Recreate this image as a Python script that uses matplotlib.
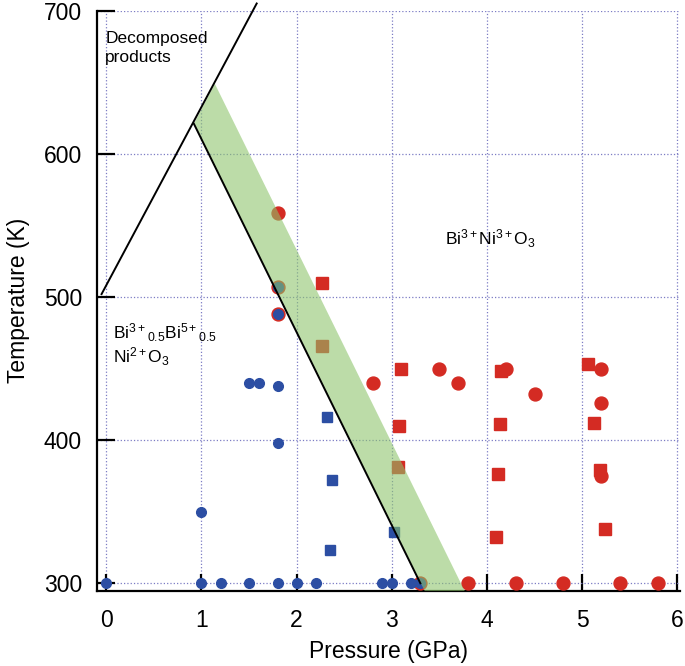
import matplotlib
matplotlib.use("Agg")
import matplotlib.pyplot as plt

plt.rcParams['font.family'] = ['Liberation Sans', 'DejaVu Sans']
plt.rcParams['mathtext.fontset'] = 'custom'
plt.rcParams['mathtext.rm'] = 'Liberation Sans'
plt.rcParams['mathtext.it'] = 'Liberation Sans:italic'

# measured points (pressure GPa, temperature K)
red_circ_p = [1.8, 1.8, 1.8, 2.8, 3.3, 3.5, 3.7, 3.8, 4.2, 4.3, 4.5, 4.8, 5.2, 5.2, 5.2, 5.4, 5.8]
red_circ_T = [559, 507, 488, 440, 300, 450, 440, 300, 450, 300, 432, 300, 450, 426, 375, 300, 300]
red_sq_p = [2.27, 2.27, 3.10, 3.08, 3.06, 4.15, 4.14, 4.12, 4.09, 5.06, 5.12, 5.19, 5.24]
red_sq_T = [510, 466, 450, 410, 381, 448, 411, 376, 332, 453, 412, 379, 338]
blue_circ_p = [0, 1.0, 1.2, 1.5, 1.8, 2.0, 2.2, 2.9, 3.0, 3.2, 3.3,
               1.5, 1.6, 1.8, 1.8, 1.0, 1.8, 1.8]
blue_circ_T = [300, 300, 300, 300, 300, 300, 300, 300, 300, 300, 300,
               440, 440, 438, 398, 350, 488, 507]
blue_sq_p = [2.32, 2.37, 2.35, 3.02]
blue_sq_T = [416, 372, 323, 336]

# phase boundaries
decomp_p = [-0.05, 1.58]
decomp_T = [502, 705]
bound_p = [0.92, 3.3]
bound_T = [621, 300]
band_p = [0.92, 1.14, 3.80, 3.38]
band_T = [621, 649, 290, 290]

red = '#d42b23'
blue = '#2c4ea3'

fig = plt.figure(figsize=(6.85, 6.66), dpi=100)
ax = fig.add_axes([0.142, 0.113, 0.851, 0.871])

ax.set_xlim(-0.095, 6.03)
ax.set_ylim(294.8, 700)

ax.plot(red_sq_p, red_sq_T, 's', color=red, ms=9, mec=red, zorder=3)
ax.plot(red_circ_p, red_circ_T, 'o', color=red, ms=9.3, mec=red, zorder=3)
ax.plot(blue_sq_p, blue_sq_T, 's', color=blue, ms=6.5, mec=blue, zorder=4)
ax.plot(blue_circ_p, blue_circ_T, 'o', color=blue, ms=7, mec=blue, zorder=4)

ax.fill(band_p, band_T, color='#8cc46a', alpha=0.58, lw=0, zorder=5)
ax.plot(decomp_p, decomp_T, color='black', lw=1.4, zorder=6, clip_on=False)
ax.plot(bound_p, bound_T, color='black', lw=1.4, zorder=6)

ax.set_xticks([0, 1, 2, 3, 4, 5, 6])
ax.set_yticks([300, 400, 500, 600, 700])
ax.grid(True, color='#7c7cc4', ls=':', lw=0.9, zorder=1)
ax.set_axisbelow(True)

for s in ['top', 'right']:
    ax.spines[s].set_visible(False)
for s in ['left', 'bottom']:
    ax.spines[s].set_linewidth(1.6)

ax.tick_params(axis='both', direction='in', width=1.6, labelsize=16.5)
ax.tick_params(axis='x', length=12, pad=13)
ax.tick_params(axis='y', length=13, pad=11)

ax.set_xlabel('Pressure (GPa)', fontsize=16.5, labelpad=6)
ax.set_ylabel('Temperature (K)', fontsize=16.5, labelpad=10)

ax.text(-0.01, 686, 'Decomposed\nproducts', fontsize=12.5, va='top', ha='left',
        linespacing=1.35, zorder=7)
ax.text(4.04, 541, r'Bi$^{3+}$Ni$^{3+}$O$_{3}$', fontsize=12.5, ha='center',
        va='center', zorder=7)
ax.text(0.07, 470.7, r'Bi$^{3+}{}_{0.5}$Bi$^{5+}{}_{0.5}$', fontsize=12.5,
        ha='left', va='baseline', zorder=7)
ax.text(0.07, 453.9, r'Ni$^{2+}$O$_{3}$', fontsize=12.5, ha='left',
        va='baseline', zorder=7)

fig.savefig('out.png', dpi=100)
